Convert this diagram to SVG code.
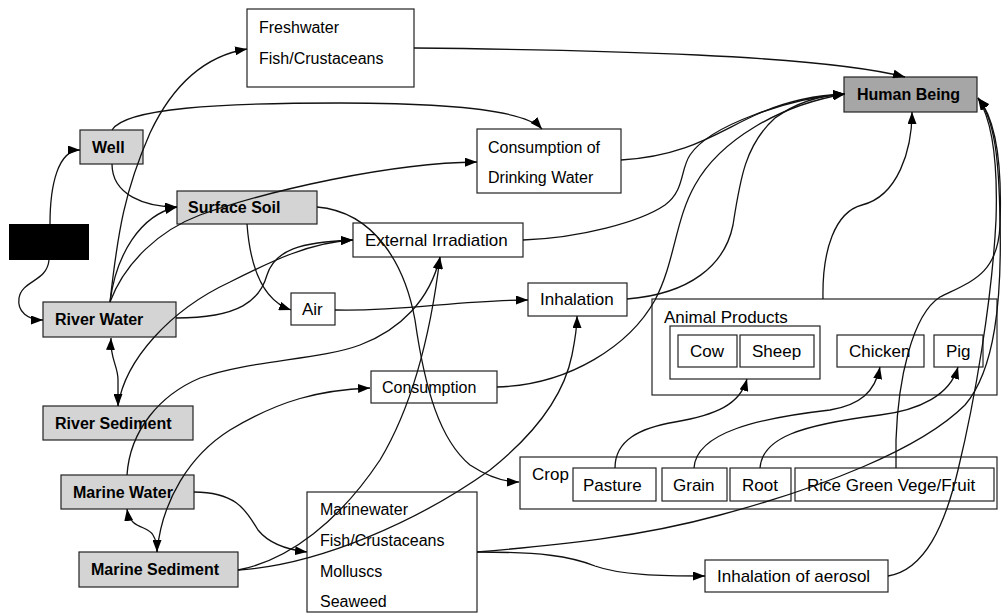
<svg xmlns="http://www.w3.org/2000/svg" width="1002" height="615" viewBox="0 0 1002 615">
<style>
  .box{fill:#fff;stroke:#222;stroke-width:1.2}
  .gbox{fill:#d4d4d4;stroke:#222;stroke-width:1.2}
  .dbox{fill:#a6a6a6;stroke:#222;stroke-width:1.2}
  .t{font-family:"Liberation Sans",Arial,sans-serif;font-size:16px;fill:#000}
  .t17{font-family:"Liberation Sans",Arial,sans-serif;font-size:17px;fill:#000}
  .b{font-family:"Liberation Sans",Arial,sans-serif;font-size:16px;font-weight:bold;fill:#000}
  .e{fill:none;stroke:#111;stroke-width:1.3}
  .a{marker-end:url(#ah)}
  .aa{marker-start:url(#ah);marker-end:url(#ah)}
</style>
<defs>
  <marker id="ah" viewBox="0 0 12 9" refX="12" refY="4.5" markerWidth="12" markerHeight="9" markerUnits="userSpaceOnUse" orient="auto-start-reverse">
    <path d="M0,0 L12,4.5 L0,9 z" fill="#000"/>
  </marker>
</defs>
<rect width="1002" height="615" fill="#fff"/>

<g id="source"><rect x="9" y="224" width="80" height="36" fill="#000"/></g>

<g id="freshwater-fish">
  <rect class="box" x="247" y="9" width="167" height="78"/>
  <text class="t" x="259" y="33">Freshwater</text>
  <text class="t" x="259" y="64">Fish/Crustaceans</text>
</g>
<g id="human-being">
  <rect class="dbox" x="844" y="77" width="133" height="35"/>
  <text class="b" x="857" y="100">Human Being</text>
</g>
<g id="well">
  <rect class="gbox" x="80" y="130" width="63" height="34"/>
  <text class="b" x="92" y="153">Well</text>
</g>
<g id="consumption-drinking-water">
  <rect class="box" x="477" y="129" width="144" height="64"/>
  <text class="t" x="488" y="153">Consumption of</text>
  <text class="t" x="488" y="183">Drinking Water</text>
</g>
<g id="surface-soil">
  <rect class="gbox" x="177" y="191" width="140" height="33"/>
  <text class="b" x="188" y="213">Surface Soil</text>
</g>
<g id="external-irradiation">
  <rect class="box" x="353" y="223" width="170" height="34"/>
  <text class="t17" x="365" y="246">External Irradiation</text>
</g>
<g id="air">
  <rect class="box" x="291" y="293" width="44" height="32"/>
  <text class="t17" x="302" y="315">Air</text>
</g>
<g id="inhalation">
  <rect class="box" x="528" y="283" width="99" height="33"/>
  <text class="t17" x="540" y="305">Inhalation</text>
</g>
<g id="river-water">
  <rect class="gbox" x="43" y="302" width="133" height="35"/>
  <text class="b" x="55" y="325">River Water</text>
</g>
<g id="animal-products">
  <rect class="box" x="652" y="299" width="345" height="96"/>
  <text class="t17" x="664" y="323">Animal Products</text>
  <rect class="box" x="670" y="326" width="150" height="53"/>
</g>
<g id="cow">
  <rect class="box" x="678" y="335" width="59" height="32"/>
  <text class="t17" x="690" y="357">Cow</text>
</g>
<g id="sheep">
  <rect class="box" x="740" y="335" width="74" height="32"/>
  <text class="t17" x="752" y="357">Sheep</text>
</g>
<g id="chicken">
  <rect class="box" x="837" y="335" width="87" height="32"/>
  <text class="t17" x="849" y="357">Chicken</text>
</g>
<g id="pig">
  <rect class="box" x="934" y="335" width="49" height="32"/>
  <text class="t17" x="946" y="357">Pig</text>
</g>
<g id="consumption">
  <rect class="box" x="371" y="371" width="126" height="32"/>
  <text class="t" x="382" y="393">Consumption</text>
</g>
<g id="river-sediment">
  <rect class="gbox" x="43" y="406" width="150" height="34"/>
  <text class="b" x="55" y="429">River Sediment</text>
</g>
<g id="crop">
  <rect class="box" x="520" y="457" width="477" height="52"/>
  <text class="t17" x="532" y="480">Crop</text>
</g>
<g id="pasture">
  <rect class="box" x="573" y="468" width="83" height="33"/>
  <text class="t17" x="583" y="491">Pasture</text>
</g>
<g id="grain">
  <rect class="box" x="662" y="468" width="65" height="33"/>
  <text class="t17" x="673" y="491">Grain</text>
</g>
<g id="root">
  <rect class="box" x="730" y="468" width="61" height="33"/>
  <text class="t17" x="742" y="491">Root</text>
</g>
<g id="rice-green-vege-fruit">
  <rect class="box" x="795" y="468" width="199" height="33"/>
  <text class="t17" x="807" y="491">Rice Green Vege/Fruit</text>
</g>
<g id="marine-water">
  <rect class="gbox" x="61" y="475" width="133" height="34"/>
  <text class="b" x="73" y="498">Marine Water</text>
</g>
<g id="marinewater-fish">
  <rect class="box" x="307" y="492" width="170" height="120"/>
  <text class="t" x="320" y="515">Marinewater</text>
  <text class="t" x="320" y="546">Fish/Crustaceans</text>
  <text class="t" x="320" y="577">Molluscs</text>
  <text class="t" x="320" y="607">Seaweed</text>
</g>
<g id="marine-sediment">
  <rect class="gbox" x="79" y="552" width="159" height="35"/>
  <text class="b" x="91" y="575">Marine Sediment</text>
</g>
<g id="inhalation-aerosol">
  <rect class="box" x="705" y="560" width="183" height="32"/>
  <text class="t17" x="717" y="582">Inhalation of aerosol</text>
</g>

<g id="connectors">
  <path class="e a" d="M50,224 C50,185 58,150 80,150"/>
  <path class="e a" d="M49,260 C47,282 22,280 19,298 C17,312 28,320 43,320"/>
  <path class="e a" d="M112,164 C112,195 145,207 177,207"/>
  <path class="e a" d="M110,302 C116,255 140,215 177,207"/>
  <path class="e a" d="M110,302 C118,230 125,190 150,133 C175,80 210,55 247,49"/>
  <path class="e a" d="M112,130 C125,108 220,103 340,103 C450,103 525,110 542,129"/>
  <path class="e a" d="M110,302 C125,262 160,230 200,215 C270,190 390,163 477,162"/>
  <path class="e a" d="M176,318 C240,318 260,300 267,275 C275,250 300,242 353,240"/>
  <path class="e a" d="M118,406 C125,360 170,310 230,282 C270,262 310,242 353,240"/>
  <path class="e aa" d="M111,338 C110,360 118,365 118,380 C118,390 118,396 118,406"/>
  <path class="e a" d="M247,224 C250,265 262,300 291,310"/>
  <path class="e a" d="M317,207 C375,212 405,265 415,320 C425,390 440,440 470,465 C490,478 505,482 519,482"/>
  <path class="e a" d="M335,310 C400,312 460,300 528,300"/>
  <path class="e a" d="M127,475 C130,430 160,395 200,378 C250,360 320,360 360,345 C400,330 430,300 440,257"/>
  <path class="e a" d="M238,570 C290,560 340,520 380,460 C410,410 430,340 440,257"/>
  <path class="e a" d="M238,570 C320,565 420,520 490,470 C540,430 565,390 572,355 C575,340 577,328 577,316"/>
  <path class="e a" d="M157,552 C162,500 190,455 230,430 C280,400 320,390 370,388"/>
  <path class="e aa" d="M127,509 C130,530 148,525 153,535 C157,542 157,546 157,552"/>
  <path class="e a" d="M194,492 C240,492 248,515 258,530 C270,545 290,550 307,552"/>
  <path class="e a" d="M477,552 C540,552 570,556 595,566 C620,575 660,576 705,576"/>
  <path class="e a" d="M615,468 C615,440 640,428 675,422 C715,415 740,405 747,379"/>
  <path class="e a" d="M694,468 C696,432 760,418 830,410 C860,405 875,392 880,367"/>
  <path class="e a" d="M760,468 C762,438 800,425 880,415 C920,410 950,395 958,367"/>
  <path class="e a" d="M414,48 C600,50 820,55 905,77"/>
  <path class="e a" d="M621,160 C690,156 720,130 760,113 C790,100 820,95 845,94"/>
  <path class="e a" d="M523,240 C580,238 640,222 665,205 C685,190 680,170 690,155 C710,125 790,98 845,94"/>
  <path class="e a" d="M627,299 C690,294 725,265 733,225 C740,180 745,145 775,118 C800,100 825,95 845,94"/>
  <path class="e a" d="M497,387 C570,385 630,345 655,300 C675,262 675,220 695,185 C720,140 780,105 845,94"/>
  <path class="e a" d="M823,299 C822,250 835,212 862,205 C898,196 912,150 912,112"/>
  <path class="e a" d="M896,468 L896,440 C898,380 912,315 940,297 C970,282 998,275 1000,225 C1002,170 997,120 978,98"/>
  <path class="e a" d="M477,552 C560,545 640,537 720,515 C820,488 920,450 965,405 C995,370 1002,300 1000,220 C999,160 995,120 978,98"/>
  <path class="e a" d="M888,576 C925,570 945,525 958,470 C975,400 992,300 996,220 C998,160 992,120 978,98"/>
</g>
</svg>
